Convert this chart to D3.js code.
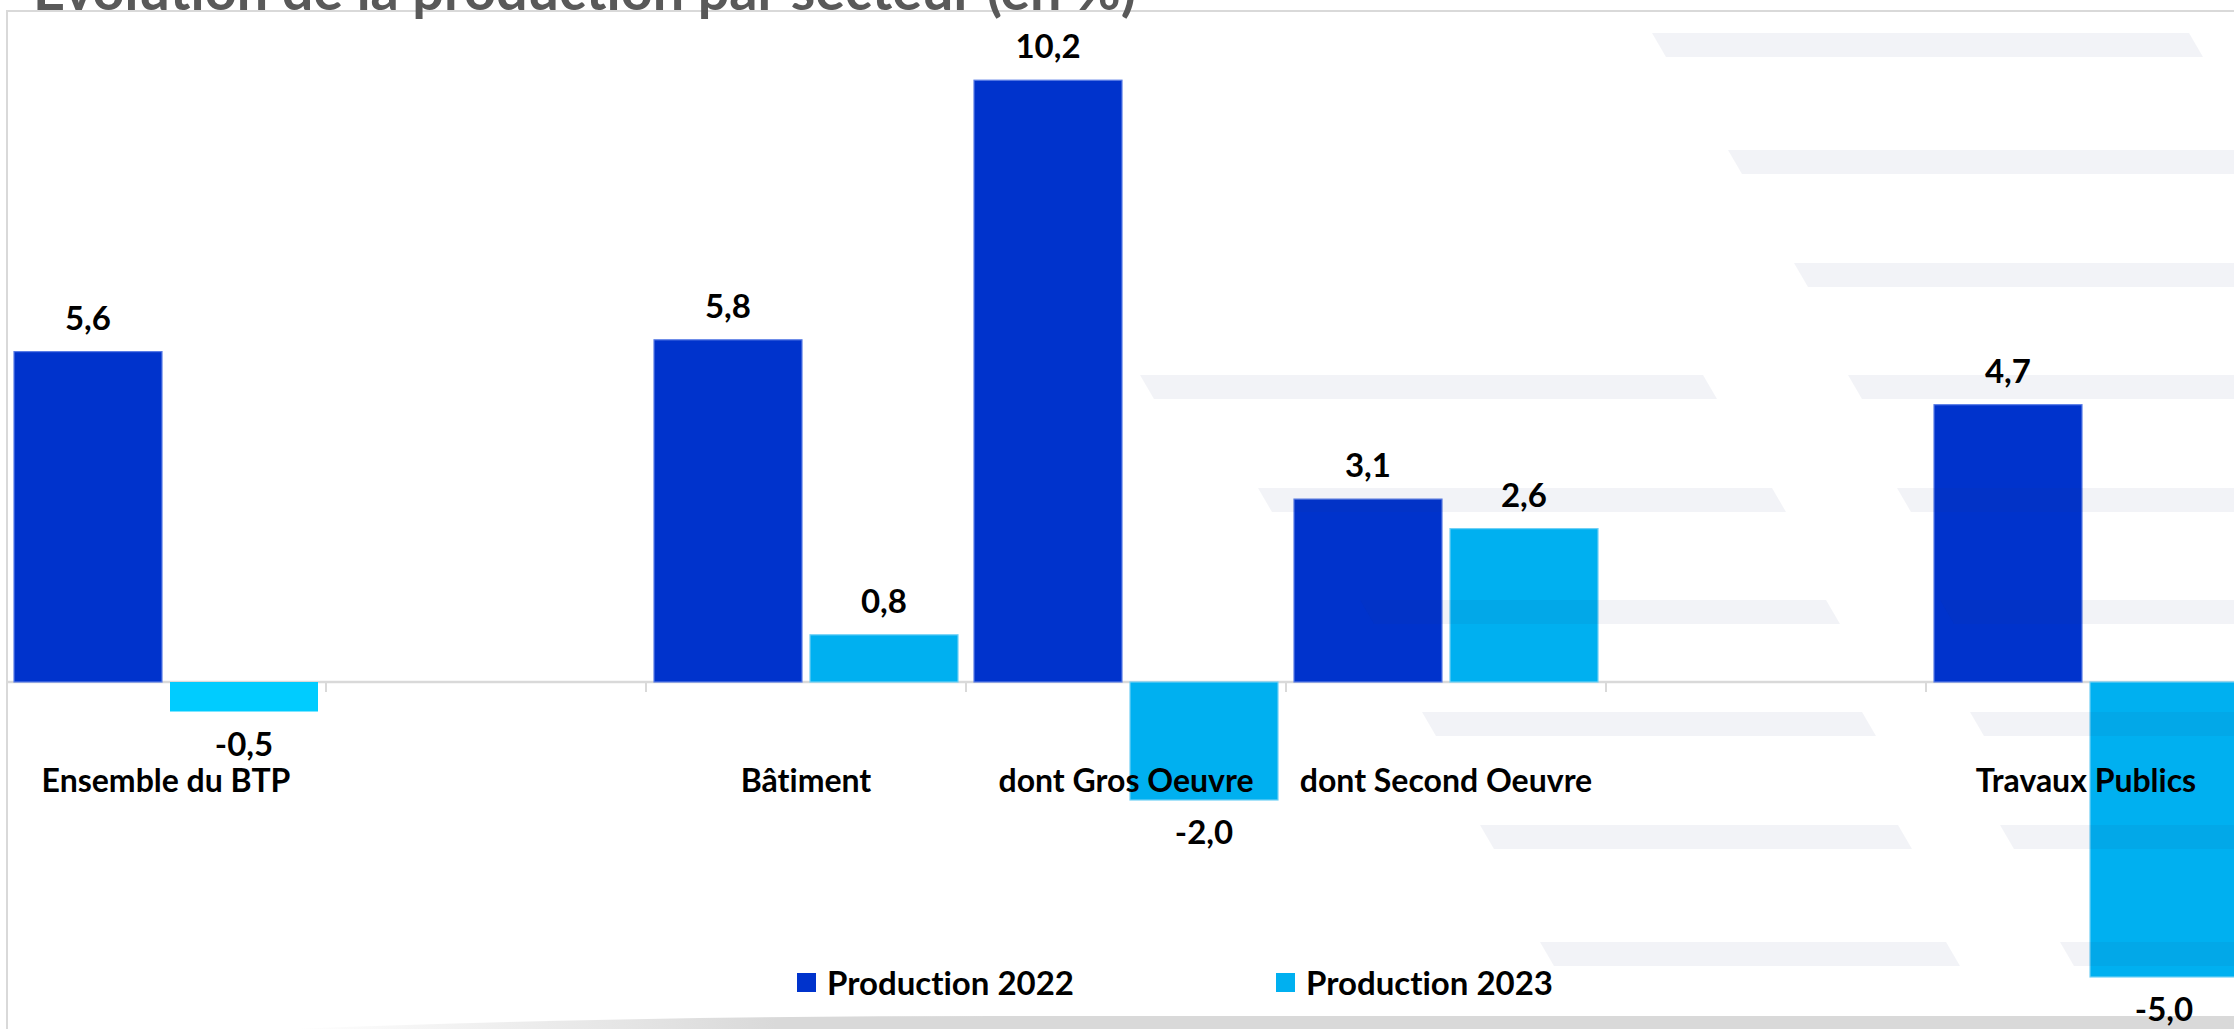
<!DOCTYPE html>
<html>
<head>
<meta charset="utf-8">
<script src="https://cdn.jsdelivr.net/npm/d3@7"></script>
<style>
  body { margin: 0; background: #fff; }
  svg { display: block; }
  text { font-variant-ligatures: none; }
</style>
</head>
<body>
<div id="chart"></div>
<script>
// Data
const categories = ["Ensemble du BTP", "", "Bâtiment", "dont Gros Oeuvre", "dont Second Oeuvre", "", "Travaux Publics"];
const prod2022 = [5.6, null, 5.8, 10.2, 3.1, null, 4.7];
const prod2023 = [-0.5, null, 0.8, -2.0, 2.6, null, -5.0];
const seriesNames = ["Production 2022", "Production 2023"];
const titleText = "Evolution de la production par secteur (en %)";

// Set dimensions
const W = 2234, H = 1029;
const zeroY = 682;
const fontFam = "Lato, 'Open Sans', sans-serif";
const colors = ["#0033cc", "#00b0f0"];
const strokes = ["#5a7de6", "#6fd0f5"];
const specialFill = { "Ensemble du BTP": "#00ccff" }; // the first 2023 bar is a brighter cyan

const svg = d3.select("#chart")
    .append("svg")
    .attr("width", W)
    .attr("height", H);

// bottom card shadow
const defs = svg.append("defs");
const grad = defs.append("linearGradient").attr("id", "shade").attr("x1", "0").attr("x2", "1");
grad.append("stop").attr("offset", "0").attr("stop-color", "#ffffff");
grad.append("stop").attr("offset", "0.25").attr("stop-color", "#d9d9d9");
grad.append("stop").attr("offset", "1").attr("stop-color", "#d9d9d9");
svg.append("path")
    .attr("d", `M290,${H} Q620,1016 1000,1016 L${W},1016 L${W},${H} Z`)
    .attr("fill", "url(#shade)");

// frame
svg.append("line").attr("x1", 7).attr("x2", 7).attr("y1", 10).attr("y2", H)
    .attr("stroke", "#d9d9d9").attr("stroke-width", 2);
svg.append("line").attr("x1", 7).attr("x2", W).attr("y1", 11).attr("y2", 11)
    .attr("stroke", "#d9d9d9").attr("stroke-width", 2);

// Scales
const x0 = d3.scaleBand()
    .domain(d3.range(categories.length))
    .range([6, 2246]);

const x1 = d3.scaleBand()
    .domain([0, 1])
    .range([0, x0.bandwidth()])
    .padding(8 / 156);

const y = d3.scaleLinear()
    .domain([-6, 11])
    .range([zeroY + 6 * 59, zeroY - 11 * 59]);

const rows = categories.map((c, i) => ({ i, cat: c, vals: [prod2022[i], prod2023[i]] }));
const bars = [];
rows.forEach(r => r.vals.forEach((v, s) => { if (v !== null) bars.push({ i: r.i, cat: r.cat, s, v }); }));

// zero line + band ticks
svg.append("line")
    .attr("x1", 7).attr("x2", W)
    .attr("y1", y(0)).attr("y2", y(0))
    .attr("stroke", "#d9d9d9").attr("stroke-width", 2.5);

svg.selectAll(".bt")
    .data(d3.range(1, categories.length))
    .enter()
    .append("line")
    .attr("x1", d => x0(d)).attr("x2", d => x0(d))
    .attr("y1", y(0)).attr("y2", y(0) + 10)
    .attr("stroke", "#d9d9d9").attr("stroke-width", 2);

// Bars
svg.selectAll(".bar")
    .data(bars)
    .enter()
    .append("rect")
    .attr("x", d => x0(d.i) + x1(d.s))
    .attr("y", d => y(Math.max(0, d.v)))
    .attr("width", x1.bandwidth())
    .attr("height", d => Math.abs(y(d.v) - y(0)))
    .attr("fill", d => (d.s === 1 && specialFill[d.cat]) ? specialFill[d.cat] : colors[d.s])
    .attr("stroke", d => (d.s === 1 && specialFill[d.cat]) ? "none" : strokes[d.s])
    .attr("stroke-width", 1.2);

// background stripes (decoration, drawn as a faint overlay)
const stripes = [
    [33, 1652, 2189], [150, 1728, 2300], [263, 1794, 2300],
    [375, 1140, 1703], [375, 1848, 2300],
    [488, 1258, 1772], [488, 1897, 2300],
    [600, 1360, 1826], [600, 1940, 2300],
    [712, 1422, 1862], [712, 1970, 2300],
    [825, 1480, 1898], [825, 2000, 2300],
    [942, 1540, 1946], [942, 2060, 2300]
];
svg.selectAll(".stripe")
    .data(stripes)
    .enter()
    .append("path")
    .attr("d", d => `M${d[1]},${d[0]} L${d[2]},${d[0]} L${d[2] + 14},${d[0] + 24} L${d[1] + 14},${d[0] + 24} Z`)
    .attr("fill", "rgb(38,55,122)")
    .attr("fill-opacity", 0.06);

// category labels
svg.append("g")
    .attr("transform", `translate(0,${y(0)})`)
    .call(d3.axisBottom(x0).tickSize(0).tickPadding(87).tickFormat(i => categories[i]))
    .call(g => g.select(".domain").remove())
    .selectAll("text")
    .attr("font-family", fontFam)
    .attr("font-weight", "bold")
    .attr("font-size", 32)
    .attr("fill", "#000");

// value labels
const fmt = v => (v < 0 ? "-" : "") + Math.abs(v).toFixed(1).replace(".", ",");
svg.selectAll(".vl")
    .data(bars)
    .enter()
    .append("text")
    .attr("x", d => x0(d.i) + x1(d.s) + x1.bandwidth() / 2)
    .attr("y", d => d.v >= 0 ? y(d.v) - 22 : y(d.v) + 44)
    .attr("text-anchor", "middle")
    .attr("font-family", fontFam)
    .attr("font-weight", "bold")
    .attr("font-size", 33)
    .attr("fill", "#000")
    .text(d => fmt(d.v));

// Legend
const legX = [797, 1276];
const leg = svg.selectAll(".leg")
    .data(seriesNames)
    .enter()
    .append("g")
    .attr("transform", (d, i) => `translate(${legX[i]},973)`);
leg.append("rect").attr("width", 19).attr("height", 19).attr("fill", (d, i) => colors[i]);
leg.append("text")
    .attr("x", 30).attr("y", 22)
    .attr("font-family", fontFam)
    .attr("font-weight", "bold")
    .attr("font-size", 33)
    .attr("fill", "#000")
    .text(d => d);

// Title (cut off at the top edge, as in the original)
svg.append("text")
    .attr("x", 33).attr("y", 10)
    .attr("font-family", fontFam)
    .attr("font-weight", "bold")
    .attr("font-size", 56)
    .attr("fill", "#595959")
    .attr("textLength", 1103)
    .attr("lengthAdjust", "spacingAndGlyphs")
    .text(titleText);
</script>
</body>
</html>
